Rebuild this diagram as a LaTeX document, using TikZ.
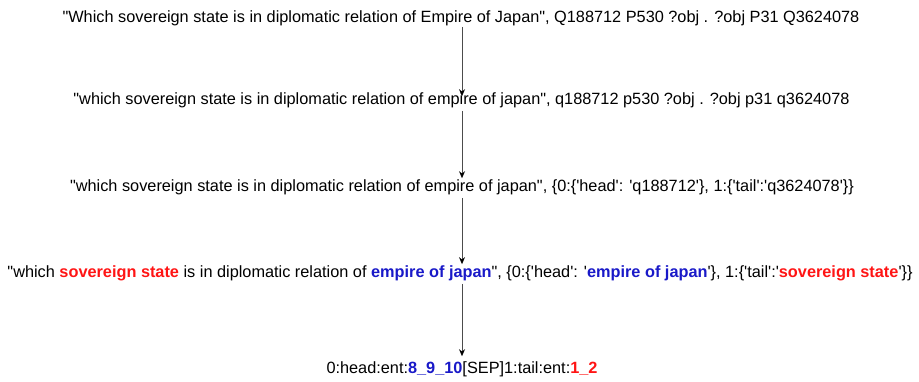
\documentclass[tikz,border=0pt]{standalone}
\usepackage{fontspec}
\setmainfont{Liberation Sans}[Ligatures=TeXOff]
\usetikzlibrary{arrows.meta}
\definecolor{entred}{RGB}{255,20,20}
\definecolor{entblue}{RGB}{25,25,200}
\newcommand{\rd}[1]{\textcolor{entred}{\textbf{#1}}}
\newcommand{\bl}[1]{\textcolor{entblue}{\textbf{#1}}}
\begin{document}
\begin{tikzpicture}[x=1bp,y=-1bp,
  txt/.style={inner sep=0pt,font=\fontsize{16.3bp}{19bp}\selectfont,text=black},
  arr/.style={draw=black!70,line width=0.9bp,-{Stealth[length=7bp,width=6bp,color=black]}}]
\useasboundingbox (0,0) rectangle (919,381);
\node[txt] (l1) at (461,18) {"Which sovereign state is in diplomatic relation of Empire of Japan", Q188712 P530 ?obj . ?obj P31 Q3624078};
\node[txt] (l2) at (461.5,100) {"which sovereign state is in diplomatic relation of empire of japan", q188712 p530 ?obj . ?obj p31 q3624078};
\node[txt] (l3) at (462,187) {"which sovereign state is in diplomatic relation of empire of japan", \{0:\{'head': 'q188712'\}, 1:\{'tail':'q3624078'\}\}};
\node[txt] (l4) at (460,273) {"which \rd{sovereign state} is in diplomatic relation of \bl{empire of japan}", \{0:\{'head': '\bl{empire of japan}'\}, 1:\{'tail':'\rd{sovereign state}'\}\}};
\node[txt] (l5) at (462,369) {0:head:ent:\bl{8\_9\_10}[SEP]1:tail:ent:\rd{1\_2}};
\coordinate (ax) at (462,0);
\draw[arr] ([yshift=-1bp]l1.south -| ax) -- ([yshift=-4bp]l2.north -| ax);
\draw[arr] ([yshift=-3bp]l2.south -| ax) -- ([yshift=1bp]l3.north -| ax);
\draw[arr] ([yshift=-3bp]l3.south -| ax) -- ([yshift=1bp]l4.north -| ax);
\draw[arr] ([yshift=-3bp]l4.south -| ax) -- ([yshift=5bp]l5.north -| ax);
\end{tikzpicture}
\end{document}
